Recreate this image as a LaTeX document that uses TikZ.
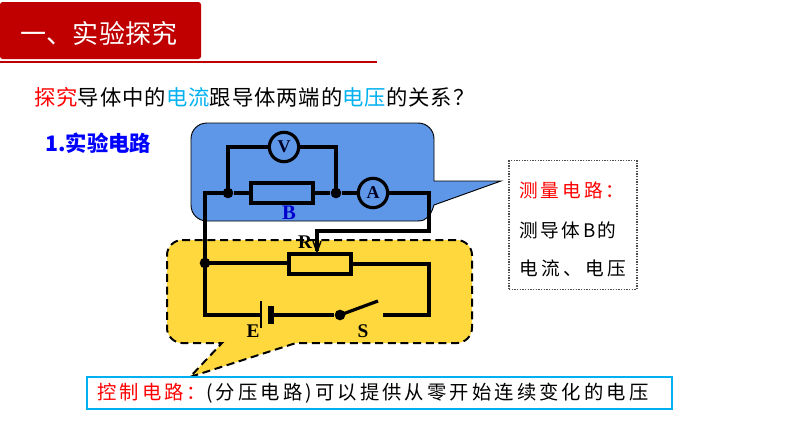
\documentclass[tikz,border=0pt]{standalone}
\usepackage{fontspec}
\setmainfont{Liberation Serif}
\newfontfamily\cjk{Noto Sans CJK SC}
\usetikzlibrary{arrows.meta}
\definecolor{barred}{HTML}{C00000}
\definecolor{skyb}{HTML}{00B0F0}
\definecolor{panelblue}{HTML}{5F97E8}
\definecolor{panelyellow}{HTML}{FFD83D}
\tikzset{
  x=0.75pt,y=-0.75pt,
  wire/.style={line width=2.4pt,line join=miter},
  res/.style={draw,line width=2.4pt,minimum width=46.5pt,minimum height=15pt,inner sep=0pt},
  meter/.style={draw,circle,line width=2.4pt,minimum size=22pt,inner sep=0pt,font=\bfseries\fontsize{13.5}{13.5}\selectfont,text=black!85!blue},
  junction/.style={circle,fill=black,minimum size=8pt,inner sep=0pt},
  letter/.style={inner sep=0pt,font=\bfseries\fontsize{14.5}{14.5}\selectfont},
  zh/.style={inner sep=0pt,anchor=west,align=left},
}
\begin{document}
\begin{tikzpicture}
\useasboundingbox (0,0) rectangle (794,446);
% header
\draw[barred,line width=1.3pt] (0,62) -- (377,62);
\fill[barred,rounded corners=2pt] (0,2) rectangle (201,59);
\node[zh,text=white] (title) at (20,34) {\cjk\addfontfeature{LetterSpace=1}\fontsize{19.5}{19.5}\selectfont 一、实验探究};
\node[zh] (question) at (34,97) {\cjk\addfontfeature{LetterSpace=4.5}\fontsize{16}{16}\selectfont\textcolor{red}{探究}导体中的\textcolor{skyb}{电流}跟导体两端的\textcolor{skyb}{电压}的关系？};
\node[zh,text=blue] (sub) at (45,143) {\cjk\bfseries\fontsize{16}{16}\selectfont 1.实验电路};
% blue callout
\draw[fill=panelblue,line width=0.7pt]
  (207,123) -- (418,123) .. controls (427,123) and (434,130) .. (434,139)
  -- (434,181) -- (501,181) -- (434,205)
  .. controls (431,215) and (427,221) .. (418,221)
  -- (207,221) .. controls (198,221) and (191,214) .. (191,205)
  -- (191,139) .. controls (191,130) and (198,123) .. (207,123) -- cycle;
% yellow callout
\draw[fill=panelyellow,line width=1.5pt,dash pattern=on 6pt off 3.5pt]
  (182,240) -- (457,240) .. controls (465,240) and (472,247) .. (472,255)
  -- (472,328) .. controls (472,336) and (465,343) .. (457,343)
  -- (296,343) -- (190,377) -- (222,343)
  -- (182,343) .. controls (174,343) and (167,336) .. (167,328)
  -- (167,255) .. controls (167,247) and (174,240) .. (182,240) -- cycle;
% circuit nodes
\node[res] (RB) at (282,193) {};
\node[res] (RR) at (320,264) {};
\node[meter] (V) at (284,147) {V};
\node[meter] (A) at (373,193) {A};
\node[junction] (j1) at (228,193) {};
\node[junction] (j2) at (336,193) {};
\node[junction] (j3) at (205,263) {};
\node[junction] (sw) at (340,315) {};
\coordinate (c1) at (205,193);
\coordinate (c2) at (429,193);
\coordinate (c3) at (429,231);
\coordinate (c4) at (317,231);
\coordinate (c5) at (317,254);
\coordinate (c6) at (205,315);
\coordinate (c7) at (429,264);
\coordinate (c8) at (429,315);
\coordinate (c9) at (383,315);
\coordinate (blade) at (378,301);
\coordinate (v1) at (228,147);
\coordinate (v2) at (336,147);
\coordinate (bl) at (261,315);
\coordinate (bs) at (271,315);
% wires
\draw[wire] (j1) -- (RB);
\draw[wire] (RB) -- (j2);
\draw[wire] (j2) -- (A);
\draw[wire] (j1.center) -- (v1) -- (V);
\draw[wire] (V) -- (v2) -- (j2.center);
\draw[wire] (j1.center) -- (c1) -- (j3.center) -- (c6) -- (bl);
\draw[wire,-{Straight Barb[length=8pt,width=6pt,line width=1.1pt]}] (A) -- (c2) -- (c3) -- (c4) -- (c5);
\draw[wire] (j3.center) -- (j3.center -| RR.west);
\draw[wire] (RR) -- (c7) -- (c8) -- (c9);
\draw[wire] (bs) -- (sw);
\draw[wire] (sw.center) -- (blade);
% battery
\draw[line width=1.8pt] (261,301) -- (261,328);
\draw[line width=5pt] (271,306) -- (271,324);
% labels
\node[letter,text=blue!80!black,font=\bfseries\fontsize{15.5}{15.5}\selectfont] (lb) at (289,213) {B};
\node[letter] (lr) at (305,242) {R};
\node[letter] (le) at (253,331) {E};
\node[letter] (ls) at (363,331) {S};
% measuring box
\node[draw=black!70,densely dotted,line width=1pt,minimum width=96pt,minimum height=96.5pt,inner sep=0pt] (mbox) at (573,225) {};
\node[zh,text=red] (m1) at (519,190) {\cjk\addfontfeature{LetterSpace=16}\fontsize{14}{14}\selectfont 测量电路：};
\node[zh] (m2) at (519,230) {\cjk\addfontfeature{LetterSpace=14}\fontsize{14}{14}\selectfont 测导体B的};
\node[zh] (m3) at (519,268) {\cjk\addfontfeature{LetterSpace=18}\fontsize{14}{14}\selectfont 电流、电压};
% control box
\node[draw=skyb,line width=1.3pt,minimum width=439pt,minimum height=24.5pt,inner sep=0pt] (cbox) at (379.5,393) {};
\node[zh] (ct) at (97,393) {\cjk\addfontfeature{LetterSpace=16}\fontsize{14.5}{14.5}\selectfont\textcolor{red}{控制电路：}(分压电路)可以提供从零开始连续变化的电压};
\end{tikzpicture}
\end{document}
